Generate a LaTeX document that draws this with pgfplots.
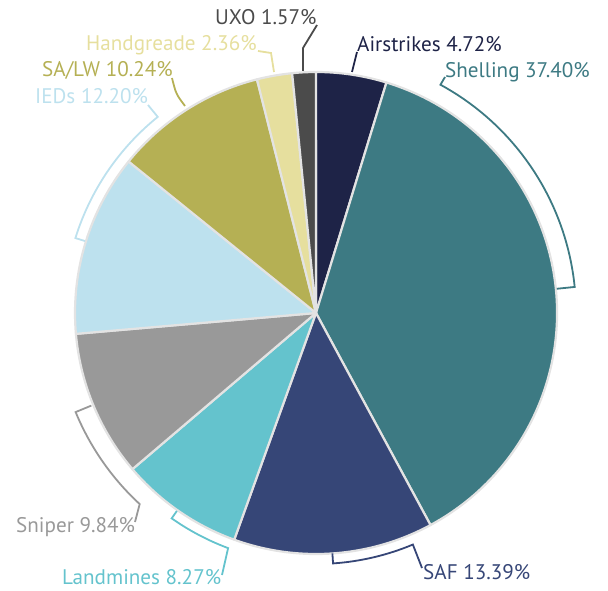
\documentclass[border=0pt]{standalone}
\usepackage{pgfplots}
\pgfplotsset{compat=1.18}
\usepackage{fontspec}
\setmainfont{PT Sans}

\definecolor{airc}{HTML}{1E2347}
\definecolor{shellc}{HTML}{3D7A83}
\definecolor{safc}{HTML}{364677}
\definecolor{landc}{HTML}{64C3CD}
\definecolor{snipc}{HTML}{999999}
\definecolor{iedc}{HTML}{BDE1EE}
\definecolor{salwc}{HTML}{B5B054}
\definecolor{handc}{HTML}{E6DF9E}
\definecolor{uxoc}{HTML}{4B4B4B}
\definecolor{rimc}{HTML}{E3E3E3}

% share of each cause, clockwise from 12 o'clock
\def\pievalues{4.72/airc,37.40/shellc,13.39/safc,8.27/landc,9.84/snipc,12.20/iedc,10.24/salwc,2.36/handc,1.57/uxoc}

\newcommand\slice[3]{%
  \fill[#3, draw=rimc, line width=2.2bp, line join=round]
    (axis cs:316,313) -- ++(#1:241bp) arc[start angle=#1, end angle=#2, radius=241bp] -- cycle;}

% label point -> arc (angle a1 to a2, radius R) -> inward tick
\newcommand\bracket[6]{%
  \draw[#1, line width=1.8bp, line join=miter]
    (axis cs:#2) -- ([shift={(#3:#5bp)}]axis cs:316,313)
    arc[start angle=#3, end angle=#4, radius=#5bp] -- ++(#4:-#6bp);}

\tikzset{lbl/.style={anchor=base west, inner sep=0pt, font=\fontsize{21.2}{25}\selectfont}}

\begin{document}
\begin{tikzpicture}
\begin{axis}[
    hide axis,
    x=1bp, y=1bp,
    xmin=0, xmax=608, ymin=0, ymax=591,
    y dir=reverse,
    clip=false,
]
\path (axis cs:0,0) rectangle (axis cs:608,591);

\pgfmathsetmacro\cum{90}
\foreach \v/\c in \pievalues {
    \pgfmathsetmacro\a{\cum}
    \pgfmathsetmacro\b{\cum-3.6*\v}
    \edef\tmp{\noexpand\slice{\a}{\b}{\c}}\tmp
    \global\let\cum\b
}

% brackets and leader lines
\bracket{shellc}{445,77}{61.4}{5.75}{260}{18}
\bracket{safc}{422,568}{-67.3}{-86.1}{251}{10}
\bracket{landc}{222,575}{-110.5}{-125.1}{251}{9}
\bracket{snipc}{135,522}{-132.7}{-157.6}{260}{17}
\bracket{iedc}{148,105}{128.9}{162.7}{252}{10}
\draw[airc, line width=1.8bp] (axis cs:352,72) .. controls (axis cs:354,62) .. (axis cs:357,52);
\draw[uxoc, line width=1.8bp] (axis cs:303,71) -- (axis cs:303,48) -- (axis cs:317,25);
\draw[handc, line width=1.8bp] (axis cs:274,72) -- (axis cs:271,53) -- (axis cs:258,51);
\draw[salwc, line width=1.8bp] (axis cs:185,106) .. controls (axis cs:176,94) .. (axis cs:172,78);

% labels
\node[lbl, text=uxoc] at (axis cs:215,25) {UXO 1.57\%};
\node[lbl, text=airc] at (axis cs:357,52) {Airstrikes 4.72\%};
\node[lbl, text=handc] at (axis cs:86,51) {Handgreade 2.36\%};
\node[lbl, text=shellc] at (axis cs:445,78) {Shelling 37.40\%};
\node[lbl, text=salwc] at (axis cs:42,77) {SA/LW 10.24\%};
\node[lbl, text=iedc] at (axis cs:35,104) {IEDs 12.20\%};
\node[lbl, text=snipc] at (axis cs:16,532) {Sniper 9.84\%};
\node[lbl, text=landc] at (axis cs:62,584) {Landmines 8.27\%};
\node[lbl, text=safc] at (axis cs:423,579) {SAF 13.39\%};
\end{axis}
\end{tikzpicture}
\end{document}
